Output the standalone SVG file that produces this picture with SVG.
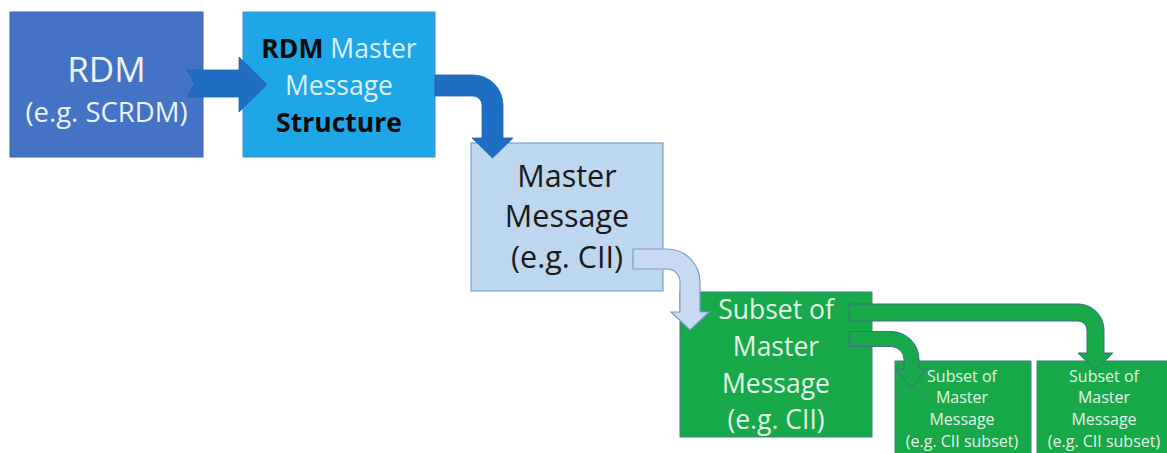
<svg xmlns="http://www.w3.org/2000/svg" width="1167" height="453" viewBox="0 0 1167 453">
<style>
  text { font-family: "Open Sans", "Noto Sans", sans-serif; text-anchor: middle; }
  .b1 { fill: #4472C4; stroke: #3A62AD; stroke-width: 1; }
  .b2 { fill: #1EA6E6; stroke: #3B8FCB; stroke-width: 1; }
  .b3 { fill: #BDD7EE; stroke: #7F9FD0; stroke-width: 1.2; }
  .bg { fill: #17A84A; stroke: #3F7E86; stroke-width: 1; }
  .wt { fill: #EEF2FA; }
  .lb { fill: #DDF0FB; }
  .dk { fill: #1A1A1A; }
  .gt { fill: #E4F6E8; }
  .bold { font-weight: bold; fill: #0A0A0A; }
  .a-blue { fill: #1E6FC4; stroke: #1E62B0; stroke-width: 0.8; }
  .a-light { fill: #C7DAF1; stroke: #7B9BCB; stroke-width: 1.2; }
  .a-green { fill: #17A84A; stroke: #3F6F80; stroke-width: 1; }
</style>

<g id="node-rdm">
  <rect class="b1" x="10" y="12" width="193" height="145"/>
  <text class="wt" x="106.5" y="82" font-size="35">RDM</text>
  <text class="wt" x="106.5" y="122" font-size="27.5">(e.g. SCRDM)</text>
</g>

<g id="node-rdm-master-structure">
  <rect class="b2" x="243" y="12" width="192" height="145"/>
  <text class="lb" x="339" y="58" font-size="26.5"><tspan class="bold">RDM</tspan> Master</text>
  <text class="lb" x="339" y="95" font-size="26.5">Message</text>
  <text class="bold" x="339" y="132" font-size="26.5">Structure</text>
</g>

<g id="node-master-message">
  <rect class="b3" x="471" y="143" width="192" height="148"/>
  <text class="dk" x="567" y="187" font-size="30.5">Master</text>
  <text class="dk" x="567" y="227" font-size="30.5">Message</text>
  <text class="dk" x="567" y="268" font-size="30.5">(e.g. CII)</text>
</g>

<g id="node-subset">
  <rect class="bg" x="680" y="292" width="192" height="145"/>
  <text class="gt" x="776" y="319" font-size="26.5">Subset of</text>
  <text class="gt" x="776" y="356" font-size="26.5">Master</text>
  <text class="gt" x="776" y="392.5" font-size="26.5">Message</text>
  <text class="gt" x="776" y="429" font-size="26.5">(e.g. CII)</text>
</g>

<g id="node-subset-a">
  <rect class="bg" x="895" y="361" width="136" height="100"/>
  <text class="gt" x="962" y="382" font-size="16">Subset of</text>
  <text class="gt" x="962" y="403" font-size="16">Master</text>
  <text class="gt" x="962" y="425" font-size="16">Message</text>
  <text class="gt" x="962" y="447" font-size="16">(e.g. CII subset)</text>
</g>

<g id="node-subset-b">
  <rect class="bg" x="1037" y="361" width="140" height="100"/>
  <text class="gt" x="1104" y="382" font-size="16">Subset of</text>
  <text class="gt" x="1104" y="403" font-size="16">Master</text>
  <text class="gt" x="1104" y="425" font-size="16">Message</text>
  <text class="gt" x="1104" y="447" font-size="16">(e.g. CII subset)</text>
</g>

<g id="connectors">
  <path class="a-blue" d="M187,70 L239,70 L239,57 L267,84.5 L239,112 L239,97 L187,97 L195,83.5 Z"/>
  <path class="a-blue" d="M435,75 L473,75 A30,30 0 0 1 503,105 L503,138 L513,138 L492.5,158 L472,138 L482,138 L482,105 A9,9 0 0 0 473,96 L435,96 Z"/>
  <path class="a-light" d="M633,249 L667,249 A33,33 0 0 1 700,282 L700,312 L709,312 L690,330 L671,312 L680,312 L680,282 A13,13 0 0 0 667,269 L633,269 Z"/>
  <path class="a-green" d="M849,304 L1078,304 A26,26 0 0 1 1104,330 L1104,353 L1113,353 L1095.5,370 L1078,353 L1087,353 L1087,330 A9,9 0 0 0 1078,321 L849,321 Z"/>
  <path class="a-green" d="M849,331.5 L891,331.5 A28,28 0 0 1 919,359.5 L919,369 L927,369 L911.5,388 L896,369 L904,369 L904,359.5 A13,13 0 0 0 891,346.5 L849,346.5 Z"/>
</g>
</svg>
